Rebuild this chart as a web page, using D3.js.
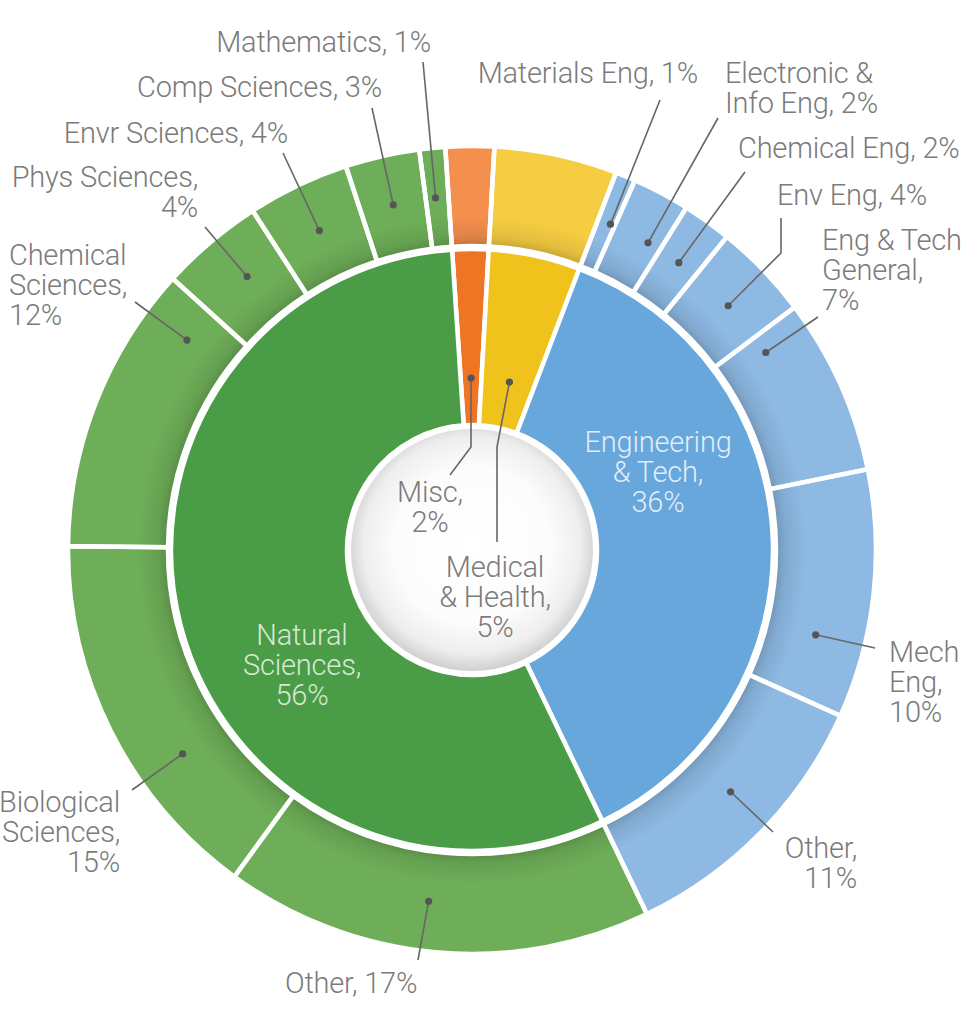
<!DOCTYPE html>
<html><head><meta charset="utf-8">
<script src="https://cdn.jsdelivr.net/npm/d3@7"></script>
<style>html,body{margin:0;padding:0;background:#fff;} svg{display:block;}</style>
</head><body>
<svg id="chart" width="962" height="1029"></svg>
<script>
// ---------- data ----------
const groups = ["Misc", "Medical & Health", "Engineering & Tech", "Natural Sciences"];
const groupPct = ["2%", "5%", "36%", "56%"];
const subjects = ["Misc", "Medical & Health", "Materials Eng", "Electronic & Info Eng", "Chemical Eng",
  "Env Eng", "Eng & Tech General", "Mech Eng", "Other", "Other", "Biological Sciences",
  "Chemical Sciences", "Phys Sciences", "Envr Sciences", "Comp Sciences", "Mathematics"];
const subjectGroup = [0, 1, 2, 2, 2, 2, 2, 2, 2, 3, 3, 3, 3, 3, 3, 3];
// angular share of each outer segment (percent of the circle)
const subjectShare = [1.94, 4.92, 0.8, 2.3, 1.97, 3.86, 7.06, 9.94, 11.14, 17.14, 15.14, 11.58, 4.14, 4.08, 2.97, 1.03];
// printed percentages
const subjectPct = ["2%", "5%", "1%", "2%", "2%", "4%", "7%", "10%", "11%", "17%", "15%", "12%", "4%", "4%", "3%", "1%"];

// ---------- styling / layout ----------
const W = 962, H = 1029, cx = 472, cy = 550;
const innerColors = ["#ed7524", "#efc31b", "#68a7dc", "#4a9d46"];
const outerColors = ["#f48f4e", "#f6cd42", "#8db9e3", "#6eae58"];
const startAngle = -3.8 * Math.PI / 180;
const textGray = "#7b7b7b";
const FONT = "Roboto, 'Helvetica Neue', Arial, sans-serif";
const FS = 29, LH = 30;

// label layout for outer segments (index into subjects)
const outerLabels = [
  {i: 2, lines: ["Materials Eng, " + subjectPct[2]], x: 698, y: 83, anchor: "end", from: [660, 100], t: 0.74},
  {i: 3, lines: ["Electronic &", "Info Eng, " + subjectPct[3]], x: 725, y: 83, anchor: "start", from: [718, 118], t: 0.73},
  {i: 4, lines: ["Chemical Eng, " + subjectPct[4]], x: 738, y: 158, anchor: "start", from: [745, 172], t: 0.52},
  {i: 5, lines: ["Env Eng, " + subjectPct[5]], x: 777, y: 205, anchor: "start", from: [781, 218], elbow: [781, 253], t: 0.52},
  {i: 6, lines: ["Eng & Tech", "General,", subjectPct[6]], x: 822, y: 250, anchor: "start", from: [818, 317], t: 0.12},
  {i: 7, lines: ["Mech", "Eng,", subjectPct[7]], x: 889, y: 662, anchor: "start", from: [875, 648], t: 0.71},
  {i: 8, lines: ["Other,", subjectPct[8]], x: 857, y: 858, anchor: "end", from: [773, 832], t: 0.47},
  {i: 9, lines: ["Other, " + subjectPct[9]], x: 285, y: 993, anchor: "start", from: [418, 960], t: 0.53},
  {i: 10, lines: ["Biological", "Sciences,", subjectPct[10]], x: 120, y: 812, anchor: "end", from: [132, 790], t: 0.345},
  {i: 11, lines: ["Chemical", "Sciences,", subjectPct[11]], x: 9, y: 265, anchor: "start", from: [135, 302], t: 0.86},
  {i: 12, lines: ["Phys Sciences,", subjectPct[12]], x: 198, y: 187, anchor: "end", from: [205, 227], t: 0.56},
  {i: 13, lines: ["Envr Sciences, " + subjectPct[13]], x: 288, y: 143, anchor: "end", from: [283, 153], t: 0.5},
  {i: 14, lines: ["Comp Sciences, " + subjectPct[14]], x: 382, y: 97, anchor: "end", from: [372, 108], t: 0.5},
  {i: 15, lines: ["Mathematics, " + subjectPct[15]], x: 431, y: 52, anchor: "end", from: [423, 62], t: 0.43}
];
const innerLabels = [
  {g: 0, lines: ["Misc,", groupPct[0]], x: 430, y: 502, anchor: "middle", color: textGray, from: [450, 475], elbow: [471, 447], t: 0.5},
  {g: 1, lines: ["Medical", "& Health,", groupPct[1]], x: 495, y: 577, anchor: "middle", color: textGray, from: [497, 542], elbow: [497, 447], t: 0.53},
  {g: 2, lines: ["Engineering", "& Tech,", groupPct[2]], x: 658, y: 452, anchor: "middle", color: "rgba(255,255,255,0.82)"},
  {g: 3, lines: ["Natural", "Sciences,", groupPct[3]], x: 302, y: 645, anchor: "middle", color: "rgba(255,255,255,0.78)"}
];

// ---------- geometry from data ----------
const total = d3.sum(subjectShare);
const ang = d3.scaleLinear().domain([0, total]).range([startAngle, startAngle + 2 * Math.PI]);
const cum = d3.cumsum(subjectShare);
const outerSegs = subjectShare.map((v, i) => ({
  i, g: subjectGroup[i], startAngle: ang(cum[i] - v), endAngle: ang(cum[i])
}));
const innerSegs = groups.map((name, g) => {
  const s = outerSegs.filter(d => d.g === g);
  return {g, startAngle: d3.min(s, d => d.startAngle), endAngle: d3.max(s, d => d.endAngle)};
});

const R = {centerR: 121, in0: 125, in1: 301, out0: 304, out1: 404, dotOut: 354, dotIn: 172};

const svg = d3.select("#chart");
const defs = svg.append("defs");

const cg = defs.append("radialGradient").attr("id", "centerGrad")
  .attr("cx", "50%").attr("cy", "48%").attr("r", "52%");
cg.append("stop").attr("offset", "0%").attr("stop-color", "#ffffff");
cg.append("stop").attr("offset", "62%").attr("stop-color", "#fcfcfc");
cg.append("stop").attr("offset", "86%").attr("stop-color", "#eeeeee");
cg.append("stop").attr("offset", "100%").attr("stop-color", "#cfcfcf");

const sg = defs.append("radialGradient").attr("id", "ringShade")
  .attr("gradientUnits", "userSpaceOnUse").attr("cx", 0).attr("cy", 0).attr("r", R.out1);
sg.append("stop").attr("offset", (R.out0 / R.out1)).attr("stop-color", "#000").attr("stop-opacity", 0.2);
sg.append("stop").attr("offset", ((R.out0 + 10) / R.out1)).attr("stop-color", "#000").attr("stop-opacity", 0.08);
sg.append("stop").attr("offset", ((R.out0 + 30) / R.out1)).attr("stop-color", "#000").attr("stop-opacity", 0);

const g = svg.append("g").attr("transform", `translate(${cx},${cy})`);

const arcOuter = d3.arc().innerRadius(R.out0).outerRadius(R.out1);
const arcInner = d3.arc().innerRadius(R.in0).outerRadius(R.in1);

g.selectAll("path.outer").data(outerSegs).join("path").attr("class", "outer")
  .attr("d", arcOuter).attr("fill", d => outerColors[d.g]);
g.selectAll("path.outershade").data(outerSegs).join("path").attr("class", "outershade")
  .attr("d", arcOuter).attr("fill", "url(#ringShade)")
  .attr("stroke", "#fff").attr("stroke-width", 4.5).attr("stroke-linejoin", "miter");

g.selectAll("path.inner").data(innerSegs).join("path").attr("class", "inner")
  .attr("d", arcInner).attr("fill", d => innerColors[d.g])
  .attr("stroke", "#fff").attr("stroke-width", 4.5);

g.append("circle").attr("r", R.centerR + 3).attr("fill", "#fff");
g.append("circle").attr("r", R.centerR).attr("fill", "url(#centerGrad)");

// ---------- labels ----------
function pt(r, a) { return [cx + r * Math.sin(a), cy - r * Math.cos(a)]; }

const lineLayer = svg.append("g");
const textLayer = svg.append("g");

function drawLeader(from, elbow, dot) {
  const pts = elbow ? [from, elbow, dot] : [from, dot];
  lineLayer.append("path").attr("d", d3.line()(pts))
    .attr("fill", "none").attr("stroke", "#666").attr("stroke-width", 1.6);
  lineLayer.append("circle").attr("cx", dot[0]).attr("cy", dot[1]).attr("r", 3.6).attr("fill", "#555");
}

function drawText(L, color) {
  const t = textLayer.append("text").attr("x", L.x).attr("y", L.y)
    .attr("text-anchor", L.anchor).attr("fill", color)
    .attr("font-family", FONT).attr("font-weight", 300).attr("font-size", FS)
    .attr("letter-spacing", -0.2);
  L.lines.forEach((s, k) => t.append("tspan").attr("x", L.x).attr("y", L.y + k * LH).text(s));
}

outerLabels.forEach(L => {
  const s = outerSegs[L.i];
  const a = s.startAngle + L.t * (s.endAngle - s.startAngle);
  drawLeader(L.from, L.elbow, pt(R.dotOut, a));
  drawText(L, textGray);
});
innerLabels.forEach(L => {
  if (L.from) {
    const s = innerSegs[L.g];
    const a = s.startAngle + L.t * (s.endAngle - s.startAngle);
    drawLeader(L.from, L.elbow, pt(R.dotIn, a));
  }
  drawText(L, L.color);
});
</script>
</body></html>
